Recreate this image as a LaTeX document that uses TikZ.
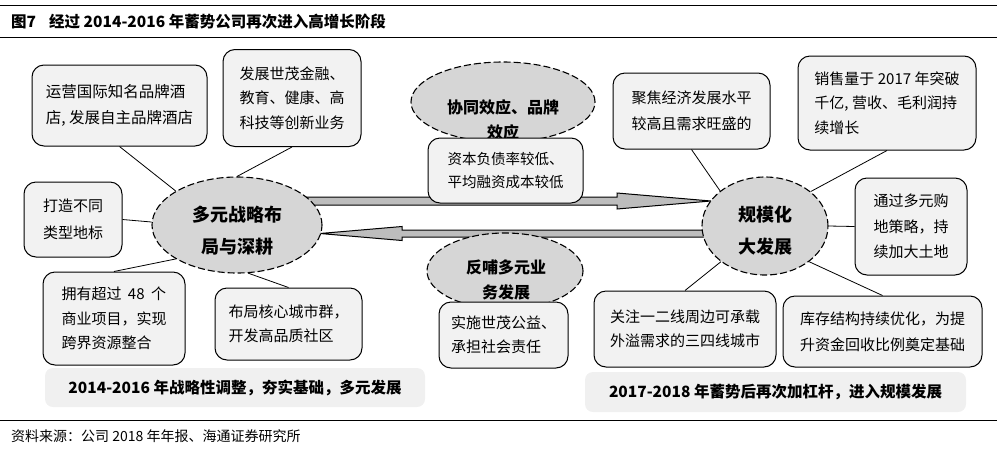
\documentclass[tikz,border=0pt]{standalone}
\usepackage{fontspec}
\setmainfont{Noto Sans CJK SC}
\usetikzlibrary{shapes.geometric}
\definecolor{boxfill}{HTML}{F2F2F2}
\definecolor{ellfill}{HTML}{D6D6D6}
\definecolor{arrfill}{HTML}{BDBDBD}
\definecolor{labfill}{HTML}{F0F0F0}
\tikzset{
  box/.style={draw=black, line width=1pt, fill=boxfill, rounded corners=12pt, align=left, inner sep=0pt, font=\fontsize{15}{24.5}\selectfont},
  ell/.style={ellipse, draw=black, dash pattern=on 7pt off 3pt, line width=1.1pt, fill=ellfill, inner sep=0pt},
  elltext/.style={align=center, inner sep=0pt, font=\fontsize{18}{32}\selectfont\bfseries},
  smalltext/.style={align=center, inner sep=0pt, font=\fontsize{16}{25}\selectfont\bfseries},
  phase/.style={fill=labfill, rounded corners=8pt, inner sep=0pt, font=\fontsize{15.5}{20}\selectfont\bfseries},
  conn/.style={draw=black, line width=0.8pt},
  bigarrow/.style={draw=black, line width=1pt, fill=arrfill, line join=miter}
}
\begin{document}
\begin{tikzpicture}[x=1pt,y=-1pt]
\useasboundingbox (0,0) rectangle (1002,456);
% rules and title
\draw[line width=0.8pt] (0,5) -- (997,5);
\draw[line width=0.8pt] (0,37) -- (997,37);
\draw[line width=0.8pt] (0,420) -- (997,420);
\node[anchor=west, inner sep=0pt, font=\fontsize{15.5}{18}\selectfont\bfseries] (tnum) at (11,22) {图7};
\node[anchor=west, inner sep=0pt, font=\fontsize{15.5}{18}\selectfont\bfseries] (ttl) at (49,22) {经过 2014-2016 年蓄势公司再次进入高增长阶段};
\node[anchor=west, inner sep=0pt, font=\fontsize{14}{16}\selectfont] (src) at (11,436) {资料来源：公司 2018 年年报、海通证券研究所};

% big arrows
\draw[bigarrow] (300,197) -- (617,197) -- (617,193) -- (711,201) -- (617,209) -- (617,205) -- (300,205) -- cycle;
\draw[bigarrow] (715,230) -- (402,230) -- (402,226.5) -- (320,233.5) -- (402,240.5) -- (402,237) -- (715,237) -- cycle;

% ellipses
\node[ell, minimum width=170pt, minimum height=96pt] (e1) at (237,225) {};
\node[elltext] (e1t) at (237,231) {多元战略布\\局与深耕};
\node[ell, minimum width=126pt, minimum height=98pt] (e2) at (765,226) {};
\node[elltext] (e2t) at (765,231) {规模化\\大发展};
\node[ell, minimum width=184pt, minimum height=80pt] (ec1) at (503,102) {};
\node[smalltext] (ec1t) at (503,120) {协同效应、品牌\\效应};
\node[ell, minimum width=156pt, minimum height=76pt] (ec2) at (505,271) {};
\node[smalltext] (ec2t) at (506,280) {反哺多元业\\务发展};

% boxes
\node[box, minimum width=175pt, minimum height=81pt, font=\fontsize{15.5}{26}\selectfont] (b1) at (119.5,105.5) {运营国际知名品牌酒\\店, 发展自主品牌酒店};
\node[box, minimum width=138pt, minimum height=97pt] (b2) at (292,98) {发展世茂金融、\\教育、健康、高\\科技等创新业务};
\node[box, minimum width=98pt, minimum height=75pt, font=\fontsize{15}{27}\selectfont] (b3) at (73,219.5) {打造不同\\类型地标};
\node[box, minimum width=142pt, minimum height=93pt] (b4) at (114,318.5) {拥有超过\hspace{6.5pt}48\hspace{6.5pt}个\\商业项目，实现\\跨界资源整合};
\node[box, minimum width=147pt, minimum height=72pt] (b5) at (288.5,324) {布局核心城市群，\\开发高品质社区};
\node[box, minimum width=155pt, minimum height=65pt, font=\fontsize{14.5}{22.5}\selectfont] (bc1) at (505.5,170.5) {资本负债率较低、\\平均融资成本较低};
\node[box, minimum width=129pt, minimum height=66pt] (bc2) at (503.5,335) {实施世茂公益、\\承担社会责任};
\node[box, minimum width=157pt, minimum height=76pt, font=\fontsize{15}{26}\selectfont] (b6) at (691.5,111) {聚焦经济发展水平\\较高且需求旺盛的};
\node[box, minimum width=178pt, minimum height=94pt] (b7) at (887,103) {销售量于 2017 年突破\\千亿, 营收、毛利润持\\续增长};
\node[box, minimum width=112pt, minimum height=97pt, font=\fontsize{15}{25.5}\selectfont] (b8) at (911,226.5) {通过多元购\\地策略，持\\续加大土地};
\node[box, minimum width=182pt, minimum height=76pt] (b9) at (685,329) {关注一二线周边可承载\\外溢需求的三四线城市};
\node[box, minimum width=199pt, minimum height=71pt, font=\fontsize{15}{26}\selectfont] (b10) at (882.5,331.5) {库存结构持续优化，为提\\升资金回收比例奠定基础};

% connectors
\draw[conn] (b1.south) -- (e1.151);
\draw[conn] (b2.south) -- (e1.90);
\draw[conn] (b3.east) -- (e1.178);
\draw[conn] (b4.north) -- (e1.209);
\draw[conn] (b5.north) -- (e1.283);
\draw[conn] (b6.south) -- (e2.142);
\draw[conn] (b7.south) -- (e2.37);
\draw[conn] (e2.east) -- (b8.west);
\draw[conn] (b9.north) -- (e2.219);
\draw[conn] (b10.north) -- (e2.321);

% phase labels
\node[phase, minimum width=380pt, minimum height=39pt] (p1) at (235,387.5) {2014-2016 年战略性调整，夯实基础，多元发展};
\node[phase, minimum width=381pt, minimum height=40pt] (p2) at (775.5,392) {2017-2018 年蓄势后再次加杠杆，进入规模发展};
\end{tikzpicture}
\end{document}
